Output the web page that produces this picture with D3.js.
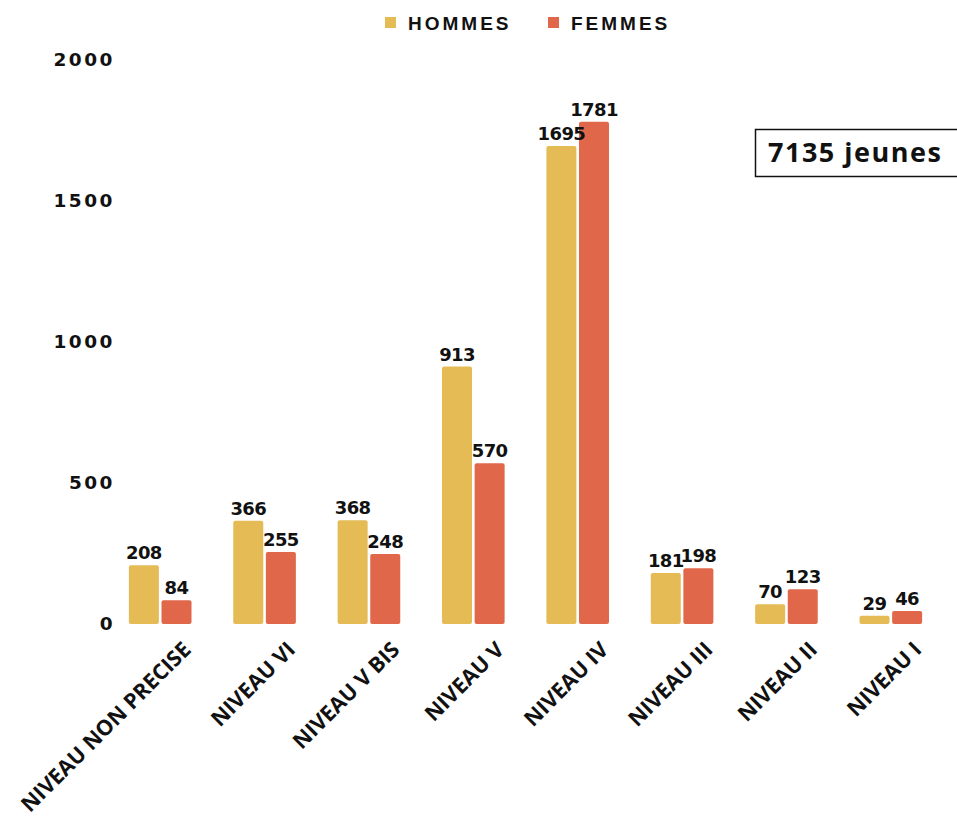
<!DOCTYPE html>
<html>
<head>
<meta charset="utf-8">
<script src="https://cdn.jsdelivr.net/npm/d3@7"></script>
<style>
  body { margin: 0; background: #fff; }
  svg { display: block; }
</style>
</head>
<body>
<div id="vis"></div>
<script>
// data
const categories = ['NIVEAU NON PRECISE', 'NIVEAU VI', 'NIVEAU V BIS', 'NIVEAU V',
    'NIVEAU IV', 'NIVEAU III', 'NIVEAU II', 'NIVEAU I'];
const seriesNames = ['HOMMES', 'FEMMES'];
const hommes = [208, 366, 368, 913, 1695, 181, 70, 29];
const femmes = [84, 255, 248, 570, 1781, 198, 123, 46];
const yTicks = [0, 500, 1000, 1500, 2000];
const totalLabel = '7135 jeunes';

const colors = ['#E5BB55', '#E1674B'];

// size
const W = 957, H = 824;
const plot = { left: 108, right: 943, top: 60, bottom: 624 };

const svg = d3.select('#vis')
    .append('svg')
    .attr('width', W)
    .attr('height', H);

// scales
const xScale = d3.scaleBand()
    .domain(categories)
    .range([plot.left, plot.right])
    .paddingInner(0.4)
    .paddingOuter(0.2);

const xSub = d3.scaleBand()
    .domain(seriesNames)
    .range([0, xScale.bandwidth()])
    .paddingInner(0.08);

const yScale = d3.scaleLinear()
    .domain([0, 2000])
    .range([plot.bottom, plot.top]);

// y axis (labels only)
const yAxis = d3.axisLeft(yScale)
    .tickValues(yTicks)
    .tickFormat(d3.format('d'))
    .tickSize(0)
    .tickPadding(0);
const yG = svg.append('g')
    .attr('transform', `translate(115,0)`)
    .call(yAxis);
yG.select('.domain').remove();
yG.selectAll('text')
    .attr('fill', '#111')
    .style('font-family', 'DejaVu Sans')
    .style('font-weight', 'bold')
    .style('font-size', '18.5px')
    .style('letter-spacing', '2.5px');

// x axis (rotated labels)
const xAxis = d3.axisBottom(xScale).tickSize(0).tickPadding(0);
const xG = svg.append('g')
    .attr('transform', `translate(0,${plot.bottom})`)
    .call(xAxis);
xG.select('.domain').remove();
xG.selectAll('text')
    .attr('fill', '#111')
    .style('font-family', 'Open Sans')
    .style('font-weight', 'bold')
    .style('font-size', '21.5px')
    .attr('text-anchor', 'end')
    .attr('dy', 0)
    .attr('y', 0)
    .attr('transform', 'translate(32,27) rotate(-45)');

// bars
const rows = categories.map((c, i) => ({ cat: c, values: [hommes[i], femmes[i]] }));

const groups = svg.selectAll('.group')
    .data(rows)
    .join('g')
    .attr('class', 'group')
    .attr('transform', d => `translate(${xScale(d.cat)},0)`);

groups.selectAll('rect')
    .data(d => d.values.map((v, j) => ({ key: seriesNames[j], v: v, j: j })))
    .join('rect')
    .attr('x', d => xSub(d.key))
    .attr('y', d => yScale(d.v))
    .attr('width', xSub.bandwidth())
    .attr('height', d => yScale(0) - yScale(d.v))
    .attr('rx', 2)
    .attr('fill', d => colors[d.j]);

groups.selectAll('.val')
    .data(d => d.values.map((v, j) => ({ key: seriesNames[j], v: v, j: j })))
    .join('text')
    .attr('class', 'val')
    .attr('x', d => xSub(d.key) + xSub.bandwidth() / 2)
    .attr('y', d => yScale(d.v) - 6)
    .attr('text-anchor', 'middle')
    .attr('fill', '#111')
    .style('font-family', 'DejaVu Sans')
    .style('font-weight', 'bold')
    .style('font-size', '18px')
    .style('letter-spacing', '-0.6px')
    .text(d => d.v);

// legend
const legend = svg.append('g').attr('class', 'legend');
const legendX = [385, 548];
seriesNames.forEach((name, i) => {
    legend.append('rect')
        .attr('x', legendX[i])
        .attr('y', 17)
        .attr('width', 11)
        .attr('height', 11)
        .attr('fill', colors[i]);
    legend.append('text')
        .attr('x', legendX[i] + 23)
        .attr('y', 30)
        .attr('fill', '#111')
        .style('font-family', 'Liberation Sans')
        .style('font-weight', 'bold')
        .style('font-size', '19px')
        .style('letter-spacing', '3px')
        .text(name);
});

// total box
svg.append('rect')
    .attr('x', 755.5)
    .attr('y', 129.5)
    .attr('width', 220)
    .attr('height', 47)
    .attr('fill', '#fff')
    .attr('stroke', '#111')
    .attr('stroke-width', 1.5);
svg.append('text')
    .attr('x', 768)
    .attr('y', 162)
    .attr('fill', '#111')
    .style('font-family', 'Open Sans')
    .style('font-weight', 'bold')
    .style('font-size', '27px')
    .style('letter-spacing', '1.5px')
    .text(totalLabel);
</script>
</body>
</html>
